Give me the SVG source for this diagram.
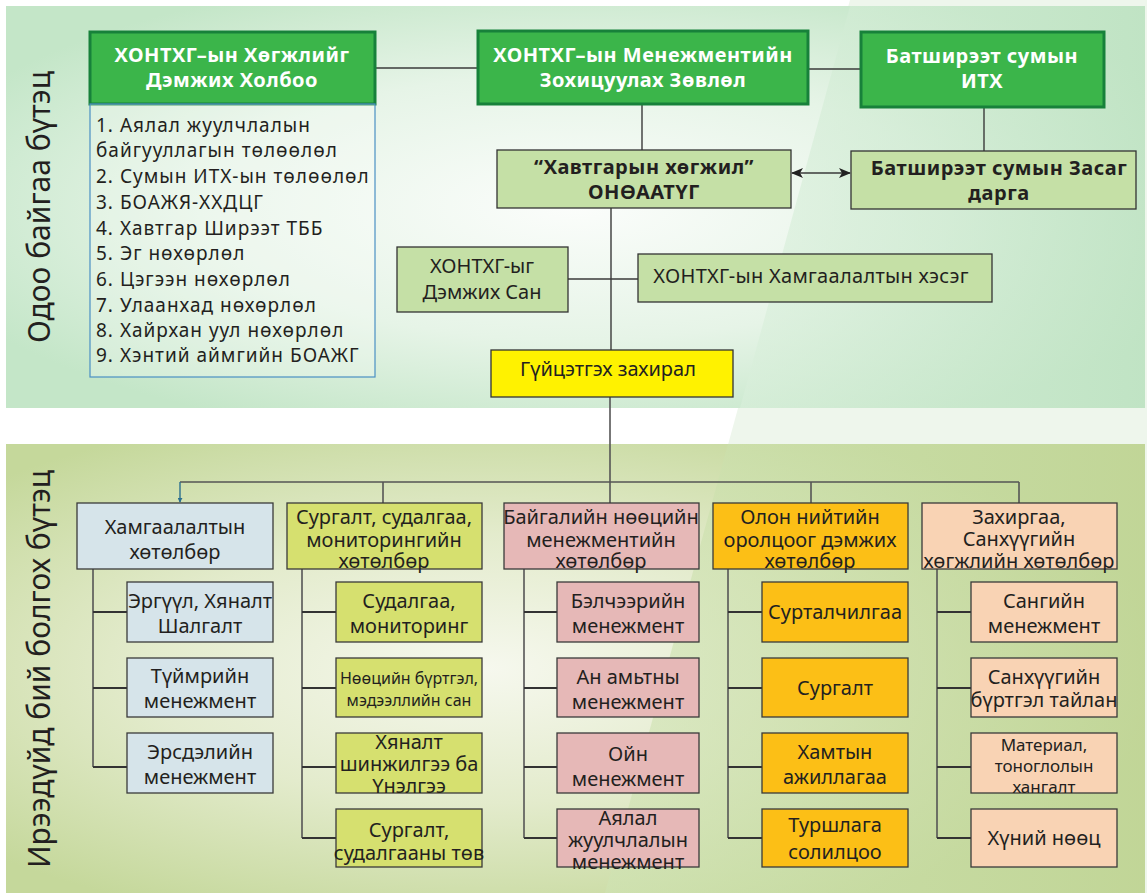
<svg xmlns="http://www.w3.org/2000/svg" width="1147" height="893" viewBox="0 0 1147 893">
<defs>
<radialGradient id="topBg" cx="0.5" cy="0.5" r="0.6">
<stop offset="0" stop-color="#fbfdfb"/>
<stop offset="0.55" stop-color="#e6f4e7"/>
<stop offset="1" stop-color="#c4e6c8"/>
</radialGradient>
<radialGradient id="botBg" cx="0.42" cy="0.5" r="0.6">
<stop offset="0" stop-color="#f6f8ee"/>
<stop offset="0.5" stop-color="#e3ebcc"/>
<stop offset="1" stop-color="#c5d89b"/>
</radialGradient>
<linearGradient id="diagTop" x1="0" y1="0" x2="1" y2="0">
<stop offset="0" stop-color="#d9efdb" stop-opacity="0.6"/>
<stop offset="1" stop-color="#bfe3c3" stop-opacity="0.8"/>
</linearGradient>
<linearGradient id="diagBot" x1="0" y1="0" x2="1" y2="0">
<stop offset="0" stop-color="#cfe3b3" stop-opacity="0.6"/>
<stop offset="1" stop-color="#c0d596" stop-opacity="0.8"/>
</linearGradient>
<marker id="arr" viewBox="0 0 12 10" refX="11" refY="5" markerWidth="12" markerHeight="10" markerUnits="userSpaceOnUse" orient="auto-start-reverse">
<path d="M0,0 L12,5 L0,10 L3,5 Z" fill="#222"/>
</marker>
<marker id="tip" viewBox="0 0 6 6" refX="5" refY="3" markerWidth="5" markerHeight="5" markerUnits="userSpaceOnUse" orient="auto">
<path d="M0,0 L6,3 L0,6 Z" fill="#2b6f8f"/>
</marker>
<style>
text { font-family: "Noto Sans", "Open Sans", "DejaVu Sans", sans-serif; fill: #231f20; }
.t20 { font-size: 20px; text-anchor: middle; }
.t16 { font-size: 16px; text-anchor: middle; }
.t17 { font-size: 17px; text-anchor: middle; }
.wb { font-size: 20px; font-weight: bold; fill: #ffffff; text-anchor: middle; letter-spacing: 0.5px; }
.db { font-size: 20px; font-weight: bold; fill: #231f20; text-anchor: middle; letter-spacing: 0.5px; }
.lst { font-size: 19px; letter-spacing: 1px; }
.vt { font-size: 30px; text-anchor: middle; }
.g1 { fill: #3bb54a; stroke: #17813a; stroke-width: 3; }
.lg { fill: #c5e0a6; stroke: #333333; stroke-width: 1.3; }
.yl { fill: #fff200; stroke: #333333; stroke-width: 1.3; }
.bl { fill: #d6e4ea; stroke: #3a3a3a; stroke-width: 1.3; }
.ol { fill: #d6e06f; stroke: #3a3a3a; stroke-width: 1.3; }
.pk { fill: #e6b8b7; stroke: #3a3a3a; stroke-width: 1.3; }
.or { fill: #fcbf16; stroke: #3a3a3a; stroke-width: 1.3; }
.pe { fill: #f9d3b4; stroke: #3a3a3a; stroke-width: 1.3; }
.ln { stroke: #3a3a3a; stroke-width: 1.4; fill: none; }
.tr { stroke: #555555; stroke-width: 1.6; fill: none; }
.br { stroke: #333333; stroke-width: 1.8; fill: none; }
</style>
</defs>

<g id="background">
<rect x="0" y="0" width="1147" height="893" fill="#ffffff"/>
<polygon points="850,0 1147,0 1147,893 605,893" fill="#eef6ec"/>
<rect x="6" y="6" width="1139" height="402" fill="url(#topBg)"/>
<polygon points="850,6 1145,6 1145,408 740,408" fill="url(#diagTop)"/>
<rect x="6" y="444" width="1139" height="449" fill="url(#botBg)"/>
<polygon points="728,444 1145,444 1145,893 605,893" fill="url(#diagBot)"/>
</g>

<g id="section-labels">
<text class="vt" transform="translate(50,207) rotate(-90)">Одоо байгаа бүтэц</text>
<text class="vt" transform="translate(50,669) rotate(-90)">Ирээдүйд бий болгох бүтэц</text>
</g>

<g id="connectors">
<line class="ln" x1="375" y1="68" x2="478" y2="68"/>
<line class="ln" x1="808" y1="69" x2="861" y2="69"/>
<line class="ln" x1="642" y1="104" x2="642" y2="150"/>
<line class="ln" x1="984" y1="107" x2="984" y2="151"/>
<line class="ln" x1="792" y1="173" x2="850" y2="173" marker-start="url(#arr)" marker-end="url(#arr)"/>
<line class="ln" x1="611" y1="208" x2="611" y2="350"/>
<line class="ln" x1="568" y1="279" x2="638" y2="279"/>
<line class="tr" x1="610" y1="397" x2="610" y2="503"/>
<line class="tr" x1="180" y1="482" x2="1019" y2="482"/>
<line x1="180" y1="482" x2="180" y2="502" stroke="#2b6f8f" stroke-width="1.4" marker-end="url(#tip)"/>
<line class="tr" x1="383" y1="482" x2="383" y2="503"/>
<line class="tr" x1="811" y1="482" x2="811" y2="503"/>
<line class="tr" x1="1019" y1="482" x2="1019" y2="503"/>
<path class="tr" d="M93,569 V767"/>
<path class="br" d="M93,612 H127 M93,688 H127 M93,767 H127"/>
<path class="tr" d="M302,569 V838"/>
<path class="br" d="M302,612 H336 M302,688 H336 M302,767 H336 M302,838 H336"/>
<path class="tr" d="M524,569 V838"/>
<path class="br" d="M524,612 H557 M524,688 H557 M524,767 H557 M524,838 H557"/>
<path class="tr" d="M728,569 V838"/>
<path class="br" d="M728,612 H762 M728,688 H762 M728,767 H762 M728,838 H762"/>
<path class="tr" d="M937,569 V838"/>
<path class="br" d="M937,612 H971 M937,688 H971 M937,767 H971 M937,838 H971"/>
</g>

<g id="node-holboo">
<rect class="g1" x="90" y="32" width="285" height="72"/>
<text class="wb" x="232" y="62">ХОНТХГ–ын Хөгжлийг</text>
<text class="wb" x="232" y="87">Дэмжих Холбоо</text>
</g>

<g id="node-members">
<rect x="90" y="104" width="285" height="273" fill="#ffffff" fill-opacity="0.25" stroke="#4a8fc4" stroke-width="1.2"/>
<text class="lst" x="96" y="132">1. Аялал жуулчлалын</text>
<text class="lst" x="96" y="157">байгууллагын төлөөлөл</text>
<text class="lst" x="96" y="183">2. Сумын ИТХ-ын төлөөлөл</text>
<text class="lst" x="96" y="209">3. БОАЖЯ-ХХДЦГ</text>
<text class="lst" x="96" y="235">4. Хавтгар Ширээт ТББ</text>
<text class="lst" x="96" y="260">5. Эг нөхөрлөл</text>
<text class="lst" x="96" y="286">6. Цэгээн нөхөрлөл</text>
<text class="lst" x="96" y="312">7. Улаанхад нөхөрлөл</text>
<text class="lst" x="96" y="337">8. Хайрхан уул нөхөрлөл</text>
<text class="lst" x="96" y="362">9. Хэнтий аймгийн БОАЖГ</text>
</g>

<g id="node-zovlol">
<rect class="g1" x="478" y="31" width="330" height="73"/>
<text class="wb" x="643" y="62">ХОНТХГ–ын Менежментийн</text>
<text class="wb" x="643" y="87">Зохицуулах Зөвлөл</text>
</g>

<g id="node-itx">
<rect class="g1" x="861" y="32" width="243" height="75"/>
<text class="wb" x="982" y="63">Батширээт сумын</text>
<text class="wb" x="982" y="88">ИТХ</text>
</g>

<g id="node-onoaatug">
<rect class="lg" x="497" y="150" width="294" height="58"/>
<text class="db" x="644" y="174">“Хавтгарын хөгжил”</text>
<text class="db" x="644" y="199">ОНӨААТҮГ</text>
</g>

<g id="node-zasag">
<rect class="lg" x="851" y="151" width="285" height="58"/>
<text class="db" x="999" y="175">Батширээт сумын Засаг</text>
<text class="db" x="999" y="200">дарга</text>
</g>

<g id="node-san">
<rect class="lg" x="397" y="247" width="171" height="65"/>
<text class="t20" x="482" y="273">ХОНТХГ-ыг</text>
<text class="t20" x="482" y="299">Дэмжих Сан</text>
</g>

<g id="node-hamgaalaltyn-heseg">
<rect class="lg" x="638" y="254" width="354" height="48"/>
<text class="t20" x="811" y="283" letter-spacing="0.3">ХОНТХГ-ын Хамгаалалтын хэсэг</text>
</g>

<g id="node-zahiral">
<rect class="yl" x="491" y="350" width="242" height="47"/>
<text class="t20" x="608" y="376">Гүйцэтгэх захирал</text>
</g>

<g id="col1">
<g id="c1-head"><rect class="bl" x="77" y="503" width="196" height="66"/>
<text class="t20" x="175" y="534">Хамгаалалтын</text><text class="t20" x="175" y="559">хөтөлбөр</text></g>
<g id="c1-r1"><rect class="bl" x="127" y="582" width="146" height="60"/>
<text class="t20" x="200" y="608">Эргүүл, Хяналт</text><text class="t20" x="200" y="633">Шалгалт</text></g>
<g id="c1-r2"><rect class="bl" x="127" y="658" width="146" height="59"/>
<text class="t20" x="200" y="683">Түймрийн</text><text class="t20" x="200" y="708">менежмент</text></g>
<g id="c1-r3"><rect class="bl" x="127" y="733" width="146" height="60"/>
<text class="t20" x="200" y="759">Эрсдэлийн</text><text class="t20" x="200" y="784">менежмент</text></g>
</g>

<g id="col2">
<g id="c2-head"><rect class="ol" x="287" y="503" width="195" height="66"/>
<text class="t20" x="384" y="524">Сургалт, судалгаа,</text><text class="t20" x="384" y="547">мониторингийн</text><text class="t20" x="384" y="568">хөтөлбөр</text></g>
<g id="c2-r1"><rect class="ol" x="336" y="582" width="146" height="60"/>
<text class="t20" x="409" y="608">Судалгаа,</text><text class="t20" x="409" y="633">мониторинг</text></g>
<g id="c2-r2"><rect class="ol" x="336" y="658" width="146" height="59"/>
<text class="t16" x="409" y="684">Нөөцийн бүртгэл,</text><text class="t16" x="409" y="706">мэдээллийн сан</text></g>
<g id="c2-r3"><rect class="ol" x="336" y="733" width="146" height="60"/>
<text class="t20" x="409" y="749">Хяналт</text><text class="t20" x="409" y="771">шинжилгээ ба</text><text class="t20" x="409" y="793">Үнэлгээ</text></g>
<g id="c2-r4"><rect class="ol" x="336" y="809" width="146" height="58"/>
<text class="t20" x="409" y="837">Сургалт,</text><text class="t20" x="409" y="860">судалгааны төв</text></g>
</g>

<g id="col3">
<g id="c3-head"><rect class="pk" x="504" y="503" width="195" height="66"/>
<text class="t20" x="601" y="524">Байгалийн нөөцийн</text><text class="t20" x="601" y="547">менежментийн</text><text class="t20" x="601" y="568">хөтөлбөр</text></g>
<g id="c3-r1"><rect class="pk" x="557" y="582" width="142" height="60"/>
<text class="t20" x="628" y="608">Бэлчээрийн</text><text class="t20" x="628" y="633">менежмент</text></g>
<g id="c3-r2"><rect class="pk" x="557" y="658" width="142" height="59"/>
<text class="t20" x="628" y="684">Ан амьтны</text><text class="t20" x="628" y="709">менежмент</text></g>
<g id="c3-r3"><rect class="pk" x="557" y="733" width="142" height="60"/>
<text class="t20" x="628" y="761">Ойн</text><text class="t20" x="628" y="786">менежмент</text></g>
<g id="c3-r4"><rect class="pk" x="557" y="809" width="142" height="58"/>
<text class="t20" x="628" y="825">Аялал</text><text class="t20" x="628" y="847">жуулчлалын</text><text class="t20" x="628" y="869">менежмент</text></g>
</g>

<g id="col4">
<g id="c4-head"><rect class="or" x="713" y="503" width="195" height="66"/>
<text class="t20" x="810" y="524">Олон нийтийн</text><text class="t20" x="810" y="547">оролцоог дэмжих</text><text class="t20" x="810" y="568">хөтөлбөр</text></g>
<g id="c4-r1"><rect class="or" x="762" y="582" width="146" height="60"/>
<text class="t20" x="835" y="619">Сурталчилгаа</text></g>
<g id="c4-r2"><rect class="or" x="762" y="658" width="146" height="59"/>
<text class="t20" x="835" y="695">Сургалт</text></g>
<g id="c4-r3"><rect class="or" x="762" y="733" width="146" height="60"/>
<text class="t20" x="835" y="759">Хамтын</text><text class="t20" x="835" y="784">ажиллагаа</text></g>
<g id="c4-r4"><rect class="or" x="762" y="809" width="146" height="58"/>
<text class="t20" x="835" y="832">Туршлага</text><text class="t20" x="835" y="859">солилцоо</text></g>
</g>

<g id="col5">
<g id="c5-head"><rect class="pe" x="922" y="503" width="195" height="66"/>
<text class="t20" x="1019" y="524">Захиргаа,</text><text class="t20" x="1019" y="546">Санхүүгийн</text><text class="t20" x="1019" y="568">хөгжлийн хөтөлбөр</text></g>
<g id="c5-r1"><rect class="pe" x="971" y="582" width="146" height="60"/>
<text class="t20" x="1044" y="608">Сангийн</text><text class="t20" x="1044" y="633">менежмент</text></g>
<g id="c5-r2"><rect class="pe" x="971" y="658" width="146" height="59"/>
<text class="t20" x="1044" y="684">Санхүүгийн</text><text class="t20" x="1044" y="707">бүртгэл тайлан</text></g>
<g id="c5-r3"><rect class="pe" x="971" y="733" width="146" height="60"/>
<text class="t17" x="1044" y="751">Материал,</text><text class="t17" x="1044" y="772">тоноглолын</text><text class="t17" x="1044" y="793">хангалт</text></g>
<g id="c5-r4"><rect class="pe" x="971" y="809" width="146" height="58"/>
<text class="t20" x="1044" y="845">Хүний нөөц</text></g>
</g>
</svg>
